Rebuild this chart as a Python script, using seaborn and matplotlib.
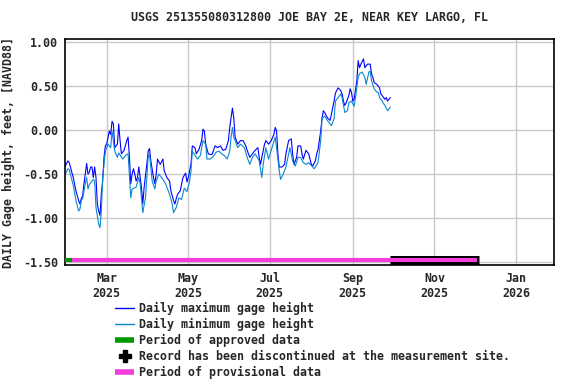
import numpy as np
import pandas as pd
import matplotlib
matplotlib.use("Agg")
import matplotlib.pyplot as plt
import matplotlib.dates as mdates
from matplotlib.lines import Line2D
import seaborn as sns

# ---- data (day numbers counted from 2025-01-01) ----
max_days = [28, 30, 31, 34, 36, 38, 39, 40, 41, 42, 43, 44, 45, 46, 47, 48, 49, 50, 51, 52, 53, 54, 55, 56, 57, 58, 59,
            61, 62, 63, 64, 65, 67, 68, 69, 70, 72, 74, 75, 76, 77, 78, 79, 80, 81, 82, 83, 84, 85, 86, 87, 89, 90, 91,
            92, 94, 95, 96, 97, 99, 101, 102, 104, 106, 107, 109, 110, 111, 112, 114, 116, 118, 119, 120, 122, 123,
            125, 126, 128, 130, 131, 132, 133, 135, 137, 138, 140, 142, 144, 146, 148, 150, 151, 152, 153, 154, 155,
            157, 159, 161, 163, 164, 166, 168, 170, 172, 173, 174, 175, 177, 178, 180, 182, 184, 185, 186, 187, 188,
            190, 192, 193, 195, 197, 198, 199, 201, 202, 204, 205, 206, 208, 210, 212, 213, 215, 216, 217, 219, 220,
            221, 222, 224, 226, 227, 229, 230, 232, 234, 235, 236, 237, 238, 240, 241, 242, 243, 244, 246, 247, 248,
            249, 251, 252, 253, 254, 256, 257, 258, 259, 261, 262, 263, 264, 266, 267, 268, 269, 271]
max_vals = [-0.41, -0.35, -0.37, -0.54, -0.69, -0.80, -0.84, -0.78, -0.75, -0.61, -0.50, -0.38, -0.50, -0.48, -0.42,
            -0.42, -0.54, -0.42, -0.54, -0.84, -0.92, -0.97, -0.72, -0.58, -0.31, -0.18, -0.16,
            -0.01, -0.05, 0.10, 0.07, -0.20, -0.16, 0.07, -0.12, -0.27, -0.23, -0.12, -0.08, -0.31, -0.61, -0.50, -0.44,
            -0.50, -0.58, -0.54, -0.42, -0.54, -0.65, -0.84, -0.65, -0.39, -0.24, -0.21,
            -0.35, -0.54, -0.61, -0.50, -0.33, -0.39, -0.33, -0.46, -0.54, -0.58, -0.69, -0.80, -0.84, -0.78, -0.73,
            -0.69, -0.54, -0.49, -0.59, -0.54, -0.39, -0.18,
            -0.20, -0.27, -0.22, -0.12, 0.01, -0.01, -0.16, -0.27, -0.28, -0.27, -0.18, -0.20, -0.18, -0.23, -0.22,
            -0.12, 0.03, 0.14, 0.25, 0.14, -0.08,
            -0.16, -0.12, -0.12, -0.18, -0.23, -0.31, -0.27, -0.23, -0.20, -0.31, -0.39, -0.31, -0.16, -0.12, -0.16,
            -0.12, -0.05, 0.03, -0.01, -0.27, -0.42,
            -0.42, -0.39, -0.27, -0.12, -0.10, -0.27, -0.39, -0.31, -0.18, -0.18, -0.27, -0.33, -0.23, -0.27, -0.39,
            -0.41, -0.35, -0.27, -0.22, -0.01, 0.14,
            0.22, 0.20, 0.14, 0.11, 0.18, 0.33, 0.42, 0.48, 0.45, 0.41, 0.33, 0.28, 0.31, 0.39, 0.47, 0.43, 0.33, 0.35,
            0.56, 0.79, 0.71,
            0.75, 0.81, 0.71, 0.73, 0.75, 0.75, 0.64, 0.60, 0.54, 0.52, 0.50, 0.48, 0.41, 0.37, 0.35, 0.37, 0.33, 0.37]

min_days = [28, 30, 31, 34, 36, 38, 39, 40, 41, 43, 44, 45, 46, 48, 49, 50, 51, 53, 54, 55, 56, 58, 60, 62, 63, 65,
            67, 68, 71, 73, 75, 77, 78, 81, 83, 84, 86, 88, 90, 91, 93, 95, 96, 98, 100, 101, 103, 106, 108, 109, 111,
            113, 115, 117, 119, 121, 122, 123, 126, 127, 129, 131, 133, 134, 136, 138, 141, 143, 145, 147, 149, 151,
            152, 153, 154, 157, 159, 162, 164, 166, 168, 170, 173, 175, 176, 178, 180, 183, 185, 186, 188, 189, 191,
            193, 195, 196, 198, 200, 202, 204, 206, 208, 210, 213, 214, 215, 217, 219, 220, 222, 224, 227, 229, 230,
            232, 234, 235, 237, 239, 240, 242, 244, 245, 247, 248, 250, 252, 253, 255, 256, 257, 259, 261, 262, 263,
            265, 266, 267, 269, 270, 271]
min_vals = [-0.50, -0.44, -0.45, -0.63, -0.80, -0.92, -0.90, -0.80, -0.78, -0.61, -0.54, -0.67, -0.62, -0.58, -0.56,
            -0.58, -0.88, -1.07, -1.11, -0.92, -0.54, -0.24, -0.16, -0.20, -0.01, -0.24,
            -0.31, -0.26, -0.33, -0.29, -0.27, -0.77, -0.67, -0.65, -0.54, -0.61, -0.94, -0.77, -0.31, -0.27, -0.58,
            -0.67, -0.58, -0.50, -0.54, -0.56, -0.61, -0.73, -0.84, -0.94, -0.88,
            -0.77, -0.79, -0.66, -0.70, -0.58, -0.47, -0.24, -0.31, -0.33, -0.29, -0.12, -0.16, -0.33, -0.33, -0.31,
            -0.25, -0.24, -0.27, -0.29, -0.33, -0.24,
            -0.08, 0.03, -0.08, -0.20, -0.16, -0.20, -0.31, -0.39, -0.31, -0.27, -0.35, -0.54, -0.39, -0.20, -0.33,
            -0.18, -0.08, -0.20, -0.46, -0.56, -0.50,
            -0.42, -0.27, -0.20, -0.35, -0.41, -0.31, -0.31, -0.37, -0.39, -0.37, -0.42, -0.44, -0.42, -0.37, -0.12,
            0.13, 0.16, 0.11, 0.05, 0.13, 0.33,
            0.37, 0.41, 0.37, 0.20, 0.22, 0.31, 0.33, 0.27, 0.37, 0.60, 0.64, 0.66, 0.60, 0.52, 0.66, 0.67, 0.56, 0.47,
            0.43, 0.43, 0.37,
            0.33, 0.30, 0.28, 0.22, 0.24, 0.26]

approved_period = (27.9, 33.0)       # day numbers
provisional_period = (33.0, 336.0)
discontinued_period = (271.0, 337.0)

labels = ["Daily maximum gage height", "Daily minimum gage height", "Period of approved data",
          "Record has been discontinued at the measurement site.", "Period of provisional data"]
title = "USGS 251355080312800 JOE BAY 2E, NEAR KEY LARGO, FL"
ylabel = "DAILY Gage height, feet, [NAVD88]"
yticks = [1.00, 0.50, 0.00, -0.50, -1.00, -1.50]

# ---- build frames ----
base = pd.Timestamp("2025-01-01")
def to_date(d):
    return base + pd.to_timedelta(np.asarray(d, dtype=float), unit="D")

df_max = pd.DataFrame({"date": to_date(max_days), "value": max_vals})
df_min = pd.DataFrame({"date": to_date(min_days), "value": min_vals})

sns.set_theme(style="white")
plt.rcParams["font.family"] = ["DejaVu Sans Mono"]
plt.rcParams["font.weight"] = "bold"
plt.rcParams["axes.unicode_minus"] = False

FS = 8.4
c_max = "#0000ff"
c_min = "#0a86d2"
c_green = "#009900"
c_pink = "#f23fd9"

fig = plt.figure(figsize=(5.76, 3.84), dpi=100)
ax = fig.add_axes([0.113, 0.310, 0.849, 0.588])

ax.grid(True, color="#c8c8c8", linewidth=1.0)
ax.set_axisbelow(True)

sns.lineplot(data=df_max, x="date", y="value", ax=ax, color=c_max, linewidth=0.8, legend=False)
sns.lineplot(data=df_min, x="date", y="value", ax=ax, color=c_min, linewidth=0.8, legend=False)

ybar = -1.5 + 0.02
ax.plot(to_date(list(discontinued_period)), [ybar, ybar], color="black", linewidth=6.5, solid_capstyle="butt", zorder=4)
ax.plot(to_date(list(approved_period)), [ybar, ybar], color=c_green, linewidth=3.0, solid_capstyle="butt", zorder=5)
ax.plot(to_date(list(provisional_period)), [ybar, ybar], color=c_pink, linewidth=3.0, solid_capstyle="butt", zorder=5)

ax.set_xlim(to_date([27.9])[0], to_date([393.5])[0])
ax.set_ylim(-1.534, 1.034)
ax.set_yticks(yticks)
ax.set_yticklabels([f"{v:.2f}" for v in yticks])
ax.xaxis.set_major_locator(mdates.MonthLocator(bymonth=[1, 3, 5, 7, 9, 11]))
ax.xaxis.set_major_formatter(mdates.DateFormatter("%b\n%Y"))
ax.tick_params(axis="both", length=0, labelsize=FS, pad=5)
for lab in ax.get_xticklabels() + ax.get_yticklabels():
    lab.set_fontweight("bold")
ax.set_xlabel("")
ax.set_ylabel(ylabel, fontsize=FS, fontweight="bold", labelpad=6)
ax.set_title(title, fontsize=FS, fontweight="bold", pad=13)
for s in ax.spines.values():
    s.set_color("black")
    s.set_linewidth(1.2)

handles = [
    Line2D([], [], color=c_max, linewidth=1.0),
    Line2D([], [], color=c_min, linewidth=1.0),
    Line2D([], [], color=c_green, linewidth=4.0, solid_capstyle="butt"),
    Line2D([], [], color="black", linestyle="none", marker="P", markersize=8),
    Line2D([], [], color=c_pink, linewidth=4.0, solid_capstyle="butt"),
]
fig.legend(handles, labels, loc="upper left", bbox_to_anchor=(0.2, 0.213), frameon=False,
           prop={"size": FS, "weight": "bold"}, handlelength=1.6, handletextpad=0.4,
           labelspacing=0.25, borderpad=0, borderaxespad=0)

fig.savefig("out.png", dpi=100)
